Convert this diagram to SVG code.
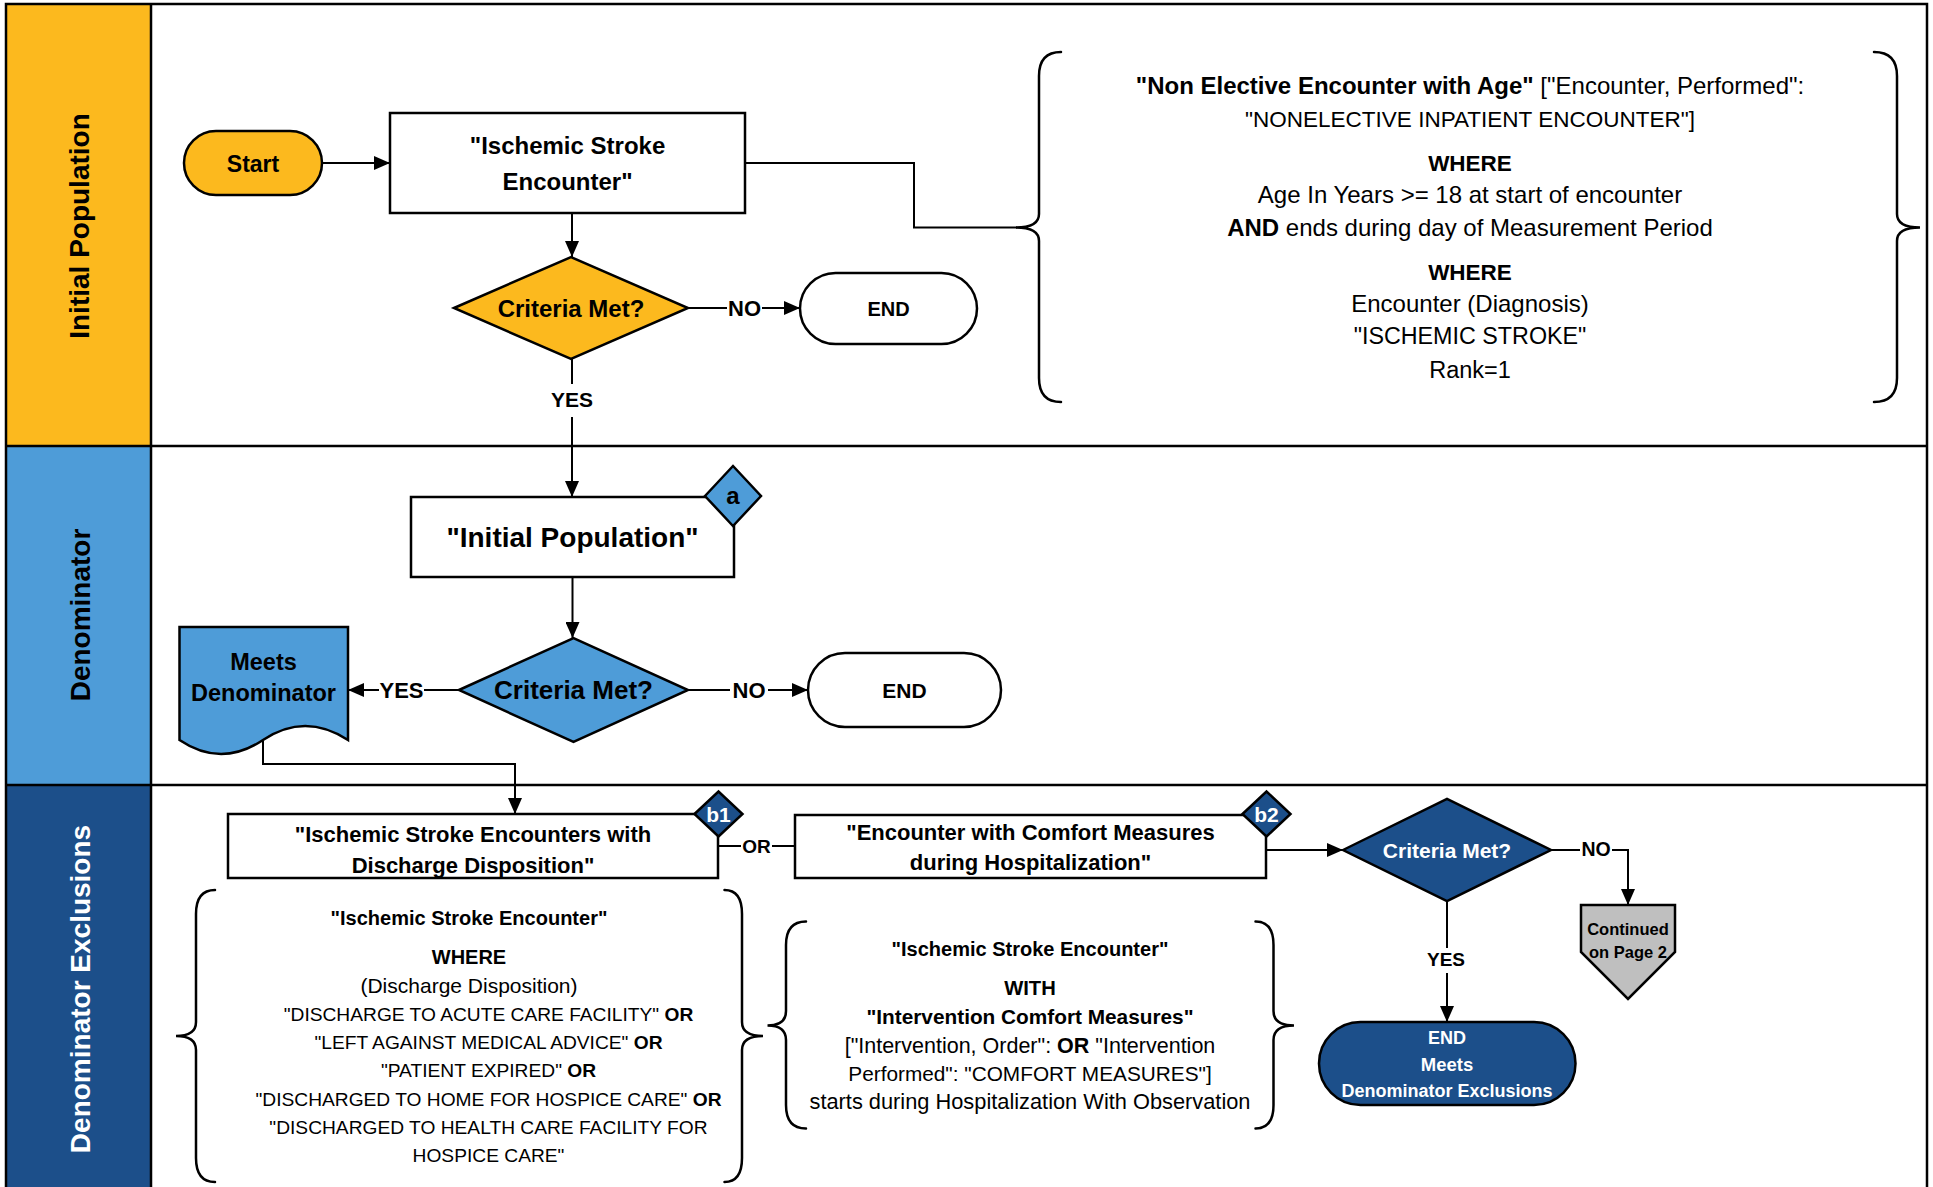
<svg xmlns="http://www.w3.org/2000/svg" width="1933" height="1187" viewBox="0 0 1933 1187">
<defs>
<style>
text { font-family: "Liberation Sans", Arial, sans-serif; text-anchor: middle; fill: #000; }
.b { font-weight: bold; }
.w { fill: #fff; }
.lane { font-weight: bold; font-size: 28px; }
.shape { stroke: #000; stroke-width: 2.5; }
.conn { stroke: #000; stroke-width: 2; fill: none; }
.brace { stroke: #000; stroke-width: 2.5; fill: none; stroke-linecap: round; }
.gold { fill: #FCB91E; }
.lblue { fill: #4E9CD8; }
.dblue { fill: #1C4F8A; }
.white { fill: #fff; }
.gray { fill: #BFBFBF; }
</style>
<marker id="ah" viewBox="0 0 16 14" refX="16" refY="7" markerWidth="16" markerHeight="14" markerUnits="userSpaceOnUse" orient="auto">
<path d="M0,0 L16,7 L0,14 z" fill="#000"/>
</marker>
</defs>

<!-- Swimlanes -->
<g id="lanes">
<rect x="0" y="0" width="1933" height="1187" fill="#fff"/>
<rect x="6" y="4" width="145" height="442" class="gold"/>
<rect x="6" y="446" width="145" height="339" class="lblue"/>
<rect x="6" y="785" width="145" height="404" class="dblue"/>
<line x1="6" y1="446" x2="1927" y2="446" stroke="#000" stroke-width="2.5"/>
<line x1="6" y1="785" x2="1927" y2="785" stroke="#000" stroke-width="2.5"/>
<line x1="151" y1="4" x2="151" y2="1190" stroke="#000" stroke-width="2.5"/>
<path d="M6,1190 V4 H1927 V1190" fill="none" stroke="#000" stroke-width="2.5"/>
<text class="lane" transform="translate(89,226) rotate(-90)">Initial Population</text>
<text class="lane" transform="translate(90,615) rotate(-90)">Denominator</text>
<text class="lane w" transform="translate(90,989) rotate(-90)">Denominator Exclusions</text>
</g>

<!-- Connectors -->
<g id="connectors">
<path class="conn" d="M322,163 H390" marker-end="url(#ah)"/>
<path class="conn" d="M745,163 H914 V227.5 H1017"/>
<path class="conn" d="M572,213 V257" marker-end="url(#ah)"/>
<path class="conn" d="M687,308 H727"/>
<path class="conn" d="M762,308 H800" marker-end="url(#ah)"/>
<text class="b" x="744.5" y="316" font-size="22">NO</text>
<path class="conn" d="M572,359 V384"/>
<path class="conn" d="M572,417 V497" marker-end="url(#ah)"/>
<text class="b" x="572" y="407" font-size="21">YES</text>
<path class="conn" d="M572.5,577 V638" marker-end="url(#ah)"/>
<path class="conn" d="M459,690 H424"/>
<path class="conn" d="M379,690 H348" marker-end="url(#ah)"/>
<text class="b" x="401.5" y="698" font-size="22">YES</text>
<path class="conn" d="M688,690 H730"/>
<path class="conn" d="M768,690 H808" marker-end="url(#ah)"/>
<text class="b" x="749" y="698" font-size="22">NO</text>
<path class="conn" d="M263,741 V764 H515 V814" marker-end="url(#ah)"/>
<path class="conn" d="M718,846 H741"/>
<path class="conn" d="M772,846 H795"/>
<text class="b" x="756.5" y="853" font-size="19">OR</text>
<path class="conn" d="M1266,850 H1343" marker-end="url(#ah)"/>
<path class="conn" d="M1551,850 H1580"/>
<path class="conn" d="M1612,850 H1628 V905" marker-end="url(#ah)"/>
<text class="b" x="1596" y="856" font-size="19.5">NO</text>
<path class="conn" d="M1447,901 V948"/>
<path class="conn" d="M1447,973 V1022" marker-end="url(#ah)"/>
<text class="b" x="1446" y="966" font-size="19">YES</text>
</g>

<!-- Lane 1 nodes -->
<g id="start">
<rect x="184" y="131" width="138" height="64" rx="32" class="gold shape"/>
<text class="b" x="253" y="171.5" font-size="23">Start</text>
</g>
<g id="ischemic-stroke-encounter">
<rect x="390" y="113" width="355" height="100" class="white shape"/>
<text class="b" x="567.5" y="153.5" font-size="24">"Ischemic Stroke</text>
<text class="b" x="567.5" y="189.5" font-size="24">Encounter"</text>
</g>
<g id="criteria1">
<polygon points="454,308 571,257 688,308 571,359" class="gold shape"/>
<text class="b" x="571" y="316.5" font-size="24">Criteria Met?</text>
</g>
<g id="end1">
<rect x="800" y="273" width="177" height="71" rx="35.5" class="white shape"/>
<text class="b" x="888.5" y="315.5" font-size="20">END</text>
</g>
<g id="ip-definition">
<path class="brace" d="M1061,52 Q1039,52 1039,76 L1039,214 Q1039,227.5 1016,227.5 Q1039,227.5 1039,241 L1039,378 Q1039,402 1061,402"/>
<path class="brace" d="M1874,52 Q1897,52 1897,76 L1897,214 Q1897,227.5 1920,227.5 Q1897,227.5 1897,241 L1897,378 Q1897,402 1874,402"/>
<text x="1470" y="93.5" font-size="24"><tspan class="b">"Non Elective Encounter with Age"</tspan> ["Encounter, Performed":</text>
<text x="1470" y="127" font-size="22.5">"NONELECTIVE INPATIENT ENCOUNTER"]</text>
<text class="b" x="1470" y="170.5" font-size="22.5">WHERE</text>
<text x="1470" y="203" font-size="24">Age In Years &gt;= 18 at start of encounter</text>
<text x="1470" y="235.5" font-size="24"><tspan class="b">AND</tspan> ends during day of Measurement Period</text>
<text class="b" x="1470" y="279.5" font-size="22.5">WHERE</text>
<text x="1470" y="311.5" font-size="24">Encounter (Diagnosis)</text>
<text x="1470" y="344" font-size="23.3">"ISCHEMIC STROKE"</text>
<text x="1470" y="378" font-size="23.5">Rank=1</text>
</g>

<!-- Lane 2 nodes -->
<g id="initial-population">
<rect x="411" y="497" width="323" height="80" class="white shape"/>
<text class="b" x="572.5" y="547" font-size="28">"Initial Population"</text>
</g>
<g id="marker-a">
<polygon points="705,496 733,466 761,496 733,526" class="lblue shape"/>
<text class="b" x="733" y="504" font-size="24">a</text>
</g>
<g id="criteria2">
<polygon points="459,690 573.5,638 688,690 573.5,742" class="lblue shape"/>
<text class="b" x="573.5" y="699" font-size="26">Criteria Met?</text>
</g>
<g id="end2">
<rect x="808" y="653" width="193" height="74" rx="37" class="white shape"/>
<text class="b" x="904.5" y="697.5" font-size="21">END</text>
</g>
<g id="meets-denominator">
<path d="M179.5,627 H348 V740 Q305,712 263,740 Q221,768 179.5,740 Z" class="lblue shape"/>
<text class="b" x="263.5" y="670" font-size="23.5">Meets</text>
<text class="b" x="263.5" y="700.5" font-size="23.5">Denominator</text>
</g>

<!-- Lane 3 nodes -->
<g id="discharge-disposition">
<rect x="228" y="814" width="490" height="64" class="white shape"/>
<text class="b" x="473" y="842" font-size="22">"Ischemic Stroke Encounters with</text>
<text class="b" x="473" y="873" font-size="22">Discharge Disposition"</text>
</g>
<g id="marker-b1">
<polygon points="694.5,814 718.5,791.5 742.5,814 718.5,836.5" class="dblue shape"/>
<text class="b w" x="718.5" y="821.5" font-size="21">b1</text>
</g>
<g id="comfort-measures">
<rect x="795" y="815" width="471" height="63" class="white shape"/>
<text class="b" x="1030.5" y="839.5" font-size="22">"Encounter with Comfort Measures</text>
<text class="b" x="1030.5" y="869.5" font-size="22">during Hospitalization"</text>
</g>
<g id="marker-b2">
<polygon points="1242.5,814 1266.5,791.5 1290.5,814 1266.5,836.5" class="dblue shape"/>
<text class="b w" x="1266.5" y="821.5" font-size="21">b2</text>
</g>
<g id="criteria3">
<polygon points="1343,850 1447,799 1551,850 1447,901" class="dblue shape"/>
<text class="b w" x="1447" y="857.5" font-size="21">Criteria Met?</text>
</g>
<g id="continued">
<polygon points="1581,905 1675,905 1675,952 1628,999 1581,952" class="gray shape"/>
<text class="b" x="1628" y="935" font-size="16.5">Continued</text>
<text class="b" x="1628" y="958" font-size="16.5">on Page 2</text>
</g>
<g id="end3">
<rect x="1319" y="1022" width="256.5" height="83" rx="41.5" class="dblue shape"/>
<text class="b w" x="1447" y="1043.5" font-size="18">END</text>
<text class="b w" x="1447" y="1070.5" font-size="18.5">Meets</text>
<text class="b w" x="1447" y="1097" font-size="18">Denominator Exclusions</text>
</g>
<g id="discharge-definition">
<path class="brace" d="M215,890 Q196,890 196,914 L196,1022 Q196,1036 176,1036 Q196,1036 196,1050 L196,1158 Q196,1182 215,1182"/>
<path class="brace" d="M724.5,890 Q742,890 742,914 L742,1022 Q742,1036 763,1036 Q742,1036 742,1050 L742,1158 Q742,1182 724.5,1182"/>
<text class="b" x="469" y="924.5" font-size="20">"Ischemic Stroke Encounter"</text>
<text class="b" x="469" y="964" font-size="20">WHERE</text>
<text x="469" y="992.5" font-size="21">(Discharge Disposition)</text>
<text x="488.5" y="1020.5" font-size="19.2">"DISCHARGE TO ACUTE CARE FACILITY" <tspan class="b">OR</tspan></text>
<text x="488.5" y="1049" font-size="19.2">"LEFT AGAINST MEDICAL ADVICE" <tspan class="b">OR</tspan></text>
<text x="488.5" y="1076.5" font-size="19.2">"PATIENT EXPIRED" <tspan class="b">OR</tspan></text>
<text x="488.5" y="1105.5" font-size="19.2">"DISCHARGED TO HOME FOR HOSPICE CARE" <tspan class="b">OR</tspan></text>
<text x="488.5" y="1134" font-size="19.2">"DISCHARGED TO HEALTH CARE FACILITY FOR</text>
<text x="488.5" y="1162" font-size="19.2">HOSPICE CARE"</text>
</g>
<g id="comfort-definition">
<path class="brace" d="M806,921.5 Q786,921.5 786,945 L786,1011 Q786,1025.5 767.5,1025.5 Q786,1025.5 786,1040 L786,1105 Q786,1128.5 806,1128.5"/>
<path class="brace" d="M1255.5,921.5 Q1273.5,921.5 1273.5,945 L1273.5,1011 Q1273.5,1025.5 1294,1025.5 Q1273.5,1025.5 1273.5,1040 L1273.5,1105 Q1273.5,1128.5 1255.5,1128.5"/>
<text class="b" x="1030" y="955.5" font-size="20">"Ischemic Stroke Encounter"</text>
<text class="b" x="1030" y="994.5" font-size="20.2">WITH</text>
<text class="b" x="1030" y="1024" font-size="20.8">"Intervention Comfort Measures"</text>
<text x="1030" y="1052.5" font-size="21.5">["Intervention, Order": <tspan class="b">OR</tspan> "Intervention</text>
<text x="1030" y="1080.5" font-size="20.8">Performed": "COMFORT MEASURES"]</text>
<text x="1030" y="1109" font-size="21.8">starts during Hospitalization With Observation</text>
</g>
</svg>
